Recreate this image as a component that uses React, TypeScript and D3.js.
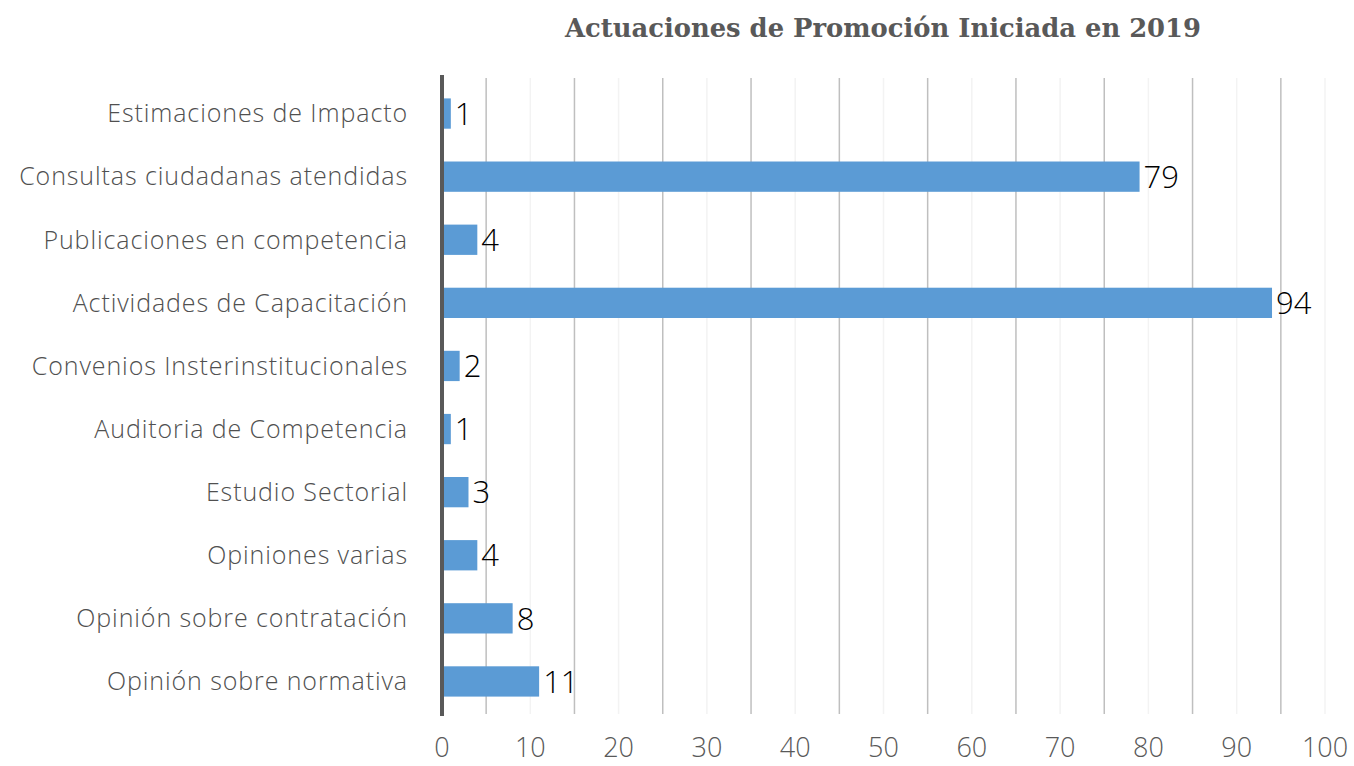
import * as React from 'react';
import * as d3 from "d3";
import { useEffect } from 'react';

// chart data, top to bottom
const categories = [
    "Estimaciones de Impacto",
    "Consultas ciudadanas atendidas",
    "Publicaciones en competencia",
    "Actividades de Capacitación",
    "Convenios Insterinstitucionales",
    "Auditoria de Competencia",
    "Estudio Sectorial",
    "Opiniones varias",
    "Opinión sobre contratación",
    "Opinión sobre normativa",
]
const values = [1, 79, 4, 94, 2, 1, 3, 4, 8, 11]
const xTicks = [0, 10, 20, 30, 40, 50, 60, 70, 80, 90, 100]
const majorGrid = [5, 15, 25, 35, 45, 55, 65, 75, 85, 95]
const title = "Actuaciones de Promoción Iniciada en 2019"

const width = 1354
const height = 766
const margin = {top: 82, right: 29, bottom: 55, left: 442}

const App = () => {
    useEffect(() => { document.body.style.margin = "0" }, [])

    const x = d3.scaleLinear()
        .domain([0, 100])
        .range([margin.left, width - margin.right])

    const y = d3.scaleBand<string>()
        .domain(categories)
        .range([margin.top, height - margin.bottom + 2])
        .paddingInner(0.52)
        .paddingOuter(0.26)

    const gridTop = 78
    const gridBottom = 714
    const labelFont = "'Open Sans', sans-serif"

    return (
        <svg width={width} height={height} style={{display: "block", background: "#fff"}}>
            <text x={883} y={37} textAnchor="middle" fontFamily="'DejaVu Serif', serif" fontWeight="bold"
                fontSize={26} fill="#595959" textLength={636} lengthAdjust="spacingAndGlyphs">{title}</text>

            {/* faint gridlines at the tick values */}
            {xTicks.slice(1).map(t => (
                <line key={"f" + t} x1={x(t)} x2={x(t)} y1={gridTop} y2={gridBottom} stroke="#f3f3f3" strokeWidth={1.5} />
            ))}
            {/* gray gridlines half way between ticks */}
            {majorGrid.map(t => (
                <line key={"g" + t} x1={x(t)} x2={x(t)} y1={gridTop} y2={gridBottom} stroke="#bfbfbf" strokeWidth={1.5} />
            ))}

            {categories.map((c, i) => (
                <g key={c}>
                    <rect x={x(0)} y={y(c)} width={x(values[i]) - x(0)} height={y.bandwidth()} fill="#5b9bd5" />
                    <text x={x(values[i]) + 4} y={y(c)! + y.bandwidth() / 2} dy="0.36em" fontFamily={labelFont}
                        fontWeight={300} fontSize={31} fill="#000">{values[i]}</text>
                    <text x={408} y={y(c)! + y.bandwidth() / 2} dy="0.35em" textAnchor="end" fontFamily={labelFont}
                        fontWeight={300} fontSize={25} letterSpacing={0.9} fill="#505050">{c}</text>
                </g>
            ))}

            {/* y axis line */}
            <line x1={x(0)} x2={x(0)} y1={75} y2={716} stroke="#595959" strokeWidth={4} />

            {xTicks.map(t => (
                <text key={"t" + t} x={x(t)} y={757} textAnchor="middle" fontFamily={labelFont} fontWeight={300}
                    fontSize={27} fill="#595959">{t}</text>
            ))}
        </svg>
    )
}

export default App
